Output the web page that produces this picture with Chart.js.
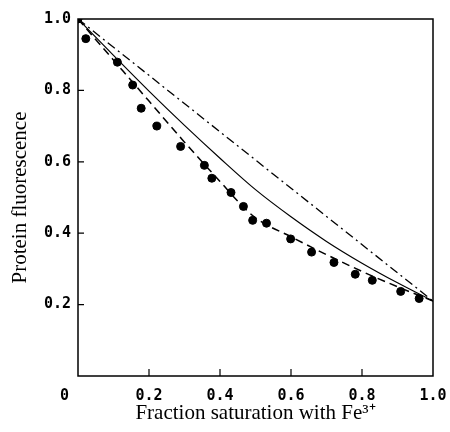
<!DOCTYPE html>
<html lang="en">
<head>
<meta charset="UTF-8">
<title>Protein fluorescence</title>
<script src="https://cdn.jsdelivr.net/npm/chart.js@4.4.1/dist/chart.umd.min.js"></script>
<style>
body { margin: 0; background: #fff; }
#wrap { width: 450px; height: 432px; }
</style>
</head>
<body>
<div id="wrap"><canvas id="chart"></canvas></div>
<script>
// measured points (filled circles)
const pointX = [0, 0.022, 0.111, 0.154, 0.178, 0.222, 0.289, 0.356, 0.377, 0.431, 0.466, 0.492, 0.531, 0.599, 0.658, 0.721, 0.781, 0.829, 0.909, 0.961]
const pointY = [1.0, 0.945, 0.879, 0.815, 0.75, 0.70, 0.643, 0.59, 0.554, 0.514, 0.475, 0.436, 0.428, 0.384, 0.347, 0.318, 0.285, 0.268, 0.237, 0.217]

// solid curve
const solidX = [0, 0.1, 0.2, 0.3, 0.4, 0.5, 0.6, 0.7, 0.8, 0.9, 1.0]
const solidY = [1.0, 0.898, 0.798, 0.702, 0.61, 0.522, 0.446, 0.377, 0.316, 0.261, 0.21]

// dashed curve
const dashedX = [0, 0.1, 0.2, 0.3, 0.4, 0.45, 0.5, 0.6, 0.7, 0.8, 0.9, 1.0]
const dashedY = [1.0, 0.885, 0.77, 0.655, 0.545, 0.49, 0.443, 0.39, 0.34, 0.293, 0.25, 0.21]

// dash-dot line
const dashDotX = [0, 1.0]
const dashDotY = [1.0, 0.21]

const xTicks = [0, 0.2, 0.4, 0.6, 0.8, 1.0]
const yTicks = [0.2, 0.4, 0.6, 0.8, 1.0]

const toXY = (xs, ys) => xs.map((x, i) => ({ x: x, y: ys[i] }))

// frame + inward tick marks
const frame = {
  id: 'frame',
  afterDatasetsDraw(chart) {
    const { ctx, chartArea: a, scales } = chart
    ctx.save()
    ctx.strokeStyle = '#000'
    ctx.lineWidth = 1.5
    ctx.strokeRect(a.left, a.top, a.right - a.left, a.bottom - a.top)
    ctx.lineWidth = 1.2
    ctx.beginPath()
    xTicks.slice(1, -1).forEach(v => {
      const px = scales.x.getPixelForValue(v)
      ctx.moveTo(px, a.bottom)
      ctx.lineTo(px, a.bottom - 7)
    })
    yTicks.slice(0, -1).forEach(v => {
      const py = scales.y.getPixelForValue(v)
      ctx.moveTo(a.left, py)
      ctx.lineTo(a.left + 6, py)
    })
    ctx.stroke()
    ctx.restore()
  }
}

const tickFont = { family: 'DejaVu Sans Mono', size: 15, weight: 'bold' }
const titleFont = { family: 'Liberation Serif', size: 21 }

new Chart(document.getElementById('chart'), {
  type: 'scatter',
  data: {
    datasets: [
      {
        data: toXY(dashDotX, dashDotY),
        showLine: true,
        borderColor: '#000',
        borderWidth: 1.3,
        borderDash: [9, 4, 2, 4],
        pointRadius: 0
      },
      {
        data: toXY(solidX, solidY),
        showLine: true,
        borderColor: '#000',
        borderWidth: 1.2,
        cubicInterpolationMode: 'monotone',
        pointRadius: 0
      },
      {
        data: toXY(dashedX, dashedY),
        showLine: true,
        borderColor: '#000',
        borderWidth: 1.5,
        borderDash: [8, 5],
        cubicInterpolationMode: 'monotone',
        pointRadius: 0
      },
      {
        data: toXY(pointX, pointY),
        backgroundColor: '#000',
        borderColor: '#000',
        pointRadius: 4
      }
    ]
  },
  options: {
    responsive: true,
    maintainAspectRatio: false,
    animation: false,
    layout: { padding: { top: 19, right: 17, left: 0, bottom: 0 } },
    plugins: { legend: { display: false }, tooltip: { enabled: false } },
    scales: {
      x: {
        type: 'linear',
        min: 0,
        max: 1,
        afterBuildTicks: s => { s.ticks = xTicks.map(v => ({ value: v })) },
        afterFit: s => { s.height = 56; s.paddingLeft = 0; s.paddingRight = 0 },
        grid: { display: false, drawTicks: false },
        border: { display: false },
        ticks: {
          color: '#000',
          font: tickFont,
          padding: 11,
          maxRotation: 0,
          callback: v => v === 0 ? '0   ' : v.toFixed(1)
        },
        title: {
          display: true,
          text: 'Fraction saturation with Fe³⁺',
          color: '#000',
          font: titleFont,
          padding: { top: 0, bottom: 6 }
        }
      },
      y: {
        type: 'linear',
        min: 0,
        max: 1,
        afterBuildTicks: s => { s.ticks = yTicks.map(v => ({ value: v })) },
        afterFit: s => { s.width = 78; s.paddingTop = 0; s.paddingBottom = 0 },
        grid: { display: false, drawTicks: false },
        border: { display: false },
        ticks: {
          color: '#000',
          font: tickFont,
          padding: 7,
          callback: v => v.toFixed(1)
        },
        title: {
          display: true,
          text: 'Protein fluorescence',
          color: '#000',
          font: titleFont,
          padding: { top: 8, bottom: 0 }
        }
      }
    }
  },
  plugins: [frame]
})
</script>
</body>
</html>
